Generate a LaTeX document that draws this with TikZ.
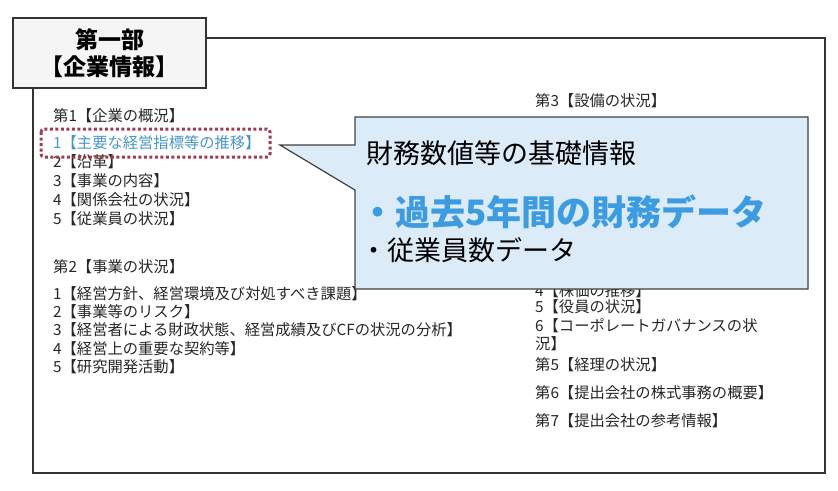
\documentclass[tikz,border=0pt]{standalone}
\usepackage{fontspec}
\setmainfont{Noto Sans CJK JP}
\begin{document}
\begin{tikzpicture}[x=1pt,y=-1pt,
  item/.style={anchor=west,inner sep=0pt,font=\fontsize{15.3}{17}\selectfont,text=black!85},
  frame/.style={draw=black!80,line width=1.3pt}]
\useasboundingbox (0,0) rectangle (838,490);
\draw[frame] (33,38) rectangle (825,473);
\node[frame,fill=gray!8,minimum width=193pt,minimum height=70pt,align=center,font=\fontsize{23}{27}\selectfont\bfseries] (title) at (109.5,53) {第一部\\【企業情報】};
% left column
\node[item] (a0) at (53,116) {第1【企業の概況】};
\node[item,text={rgb,255:red,70;green,150;blue,200}] (a1) at (53,143) {1【主要な経営指標等の推移】};
\node[item] (a2) at (53,162) {2【沿革】};
\node[item] (a3) at (53,181) {3【事業の内容】};
\node[item] (a4) at (53,200) {4【関係会社の状況】};
\node[item] (a5) at (53,219) {5【従業員の状況】};
\node[item] (b0) at (53,267) {第2【事業の状況】};
\node[item] (b1) at (53,294) {1【経営方針、経営環境及び対処すべき課題】};
\node[item] (b2) at (53,312) {2【事業等のリスク】};
\node[item] (b3) at (53,330) {3【経営者による財政状態、経営成績及びCFの状況の分析】};
\node[item] (b4) at (53,349) {4【経営上の重要な契約等】};
\node[item] (b5) at (53,367) {5【研究開発活動】};
% right column
\node[item] (c0) at (535,101) {第3【設備の状況】};
\node[item] (c4) at (535,291) {4【株価の推移】};
\node[item] (c5) at (535,307) {5【役員の状況】};
\node[item] (c6) at (535,326) {6【コーポレートガバナンスの状};
\node[item] (c6b) at (535,344) {況】};
\node[item] (d5) at (535,365) {第5【経理の状況】};
\node[item] (d6) at (535,393) {第6【提出会社の株式事務の概要】};
\node[item] (d7) at (535,421) {第7【提出会社の参考情報】};
% dotted highlight
\draw[draw={rgb,255:red,160;green,60;blue,80},line width=3pt,dash pattern=on 3pt off 2.5pt,rounded corners=3pt] (41,129) rectangle (270,157);
% callout
\coordinate (tip) at (280,145);
\draw[draw=black!75,line width=1.2pt,fill={rgb,255:red,220;green,235;blue,248}]
  (355,117) -- (808,117) -- (808,289) -- (355,289) -- (355,190) -- (tip) -- (355,145) -- cycle;
\node[anchor=west,inner sep=0pt,font=\fontsize{27}{30}\selectfont] (t1) at (366,153) {財務数値等の基礎情報};
\node[anchor=west,inner sep=0pt,font=\fontsize{35}{38}\selectfont\bfseries,text={rgb,255:red,60;green,155;blue,225}] (t2) at (360,212) {・過去5年間の財務データ};
\node[anchor=west,inner sep=0pt,font=\fontsize{27}{30}\selectfont] (t3) at (360,250) {・従業員数データ};
\end{tikzpicture}
\end{document}
